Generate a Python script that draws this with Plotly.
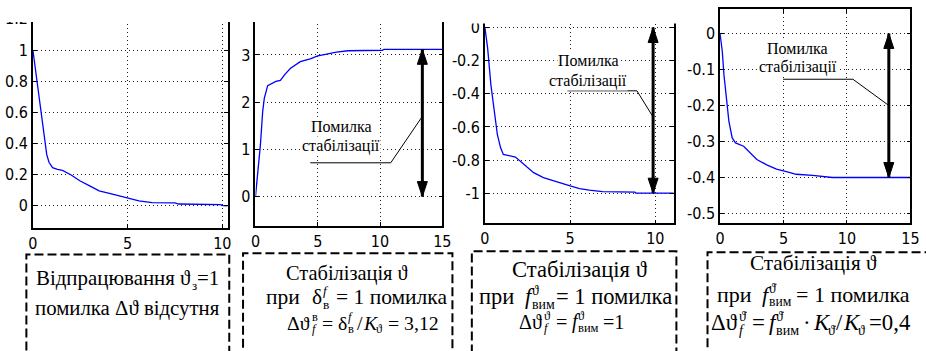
import plotly.graph_objects as go

FIG_W, FIG_H = 926, 351

# ---- time responses (time in s) ----
t_track = [0, 0.26, 0.43, 0.61, 0.73, 0.85, 1.04, 1.3, 1.56, 2.0, 2.5, 3.0, 3.5, 4.2,
           5.0, 5.6, 6.3, 7.5, 7.7, 9.9, 10.05, 10.28]
y_track = [1.0, 0.755, 0.606, 0.457, 0.33, 0.28, 0.245, 0.235, 0.228, 0.2, 0.16, 0.128,
           0.096, 0.075, 0.049, 0.032, 0.021, 0.019, 0.012, 0.008, 0.002, 0.0]

t_elev = [0, 0.19, 0.4, 0.58, 0.71, 0.98, 1.3, 1.64, 2.0, 2.4, 2.82, 3.6, 4.4, 5.0,
          5.72, 6.5, 7.43, 10.2, 10.3, 15]
y_elev = [0, 0.47, 1.1, 1.8, 2.08, 2.35, 2.4, 2.44, 2.46, 2.6, 2.72, 2.86, 2.92, 2.98,
          3.02, 3.06, 3.09, 3.1, 3.12, 3.12]

t_dist = [0, 0.16, 0.35, 0.54, 0.73, 0.92, 1.08, 1.79, 2.28, 2.86, 3.43, 4.2, 5.0,
          5.55, 6.13, 6.9, 8.8, 8.85, 11.08]
y_dist = [0, -0.126, -0.346, -0.506, -0.646, -0.726, -0.766, -0.782, -0.826, -0.876,
          -0.906, -0.932, -0.956, -0.972, -0.982, -0.99, -0.993, -1.0, -1.0]

t_rate = [0, 0.18, 0.31, 0.52, 0.7, 0.96, 1.22, 1.86, 2.38, 2.9, 3.68, 4.45, 5.23,
          6.0, 7.3, 8.85, 15]
y_rate = [0, -0.05, -0.115, -0.189, -0.244, -0.29, -0.304, -0.313, -0.331, -0.35,
          -0.365, -0.377, -0.384, -0.391, -0.394, -0.4, -0.4]

# steady-state stabilisation errors
err_elev = 3.12
err_dist = -1.0
err_rate = -0.4

# tick values / labels
xt_10 = [0, 5, 10]
xt_15 = [0, 5, 10, 15]
yt_track = [0, 0.2, 0.4, 0.6, 0.8, 1.0, 1.2]
yl_track = ["0", "0.2", "0.4", "0.6", "0.8", "1", "1.2"]
yt_elev = [0, 1, 2, 3]
yl_elev = ["0", "1", "2", "3"]
yt_dist = [0, -0.2, -0.4, -0.6, -0.8, -1.0]
yl_dist = ["0", "-0.2", "-0.4", "-0.6", "-0.8", "-1"]
yt_rate = [0, -0.1, -0.2, -0.3, -0.4, -0.5]
yl_rate = ["0", "-0.1", "-0.2", "-0.3", "-0.4", "-0.5"]

NARROW = '"DejaVu Sans Condensed", "DejaVu Sans", sans-serif'
SERIF = '"Liberation Serif", "Times New Roman", serif'


def fx(px):
    return px / FIG_W


def fy(py):
    return 1 - py / FIG_H


panels = [
    dict(t=t_track, y=y_track, dx=(28.3, 226), dy=(10, 227), xr=(0, 10.28),
         yr=(-0.140, 1.2444), xt=xt_10, yt=yt_track, yl=yl_track),
    dict(t=t_elev, y=y_elev, dx=(254.3, 444), dy=(10, 225), xr=(0, 15),
         yr=(-0.617, 3.912), xt=xt_15, yt=yt_elev, yl=yl_elev),
    dict(t=t_dist, y=y_dist, dx=(487.3, 679), dy=(10, 222.7), xr=(0, 11.08),
         yr=(-1.1825, 0.0942), xt=xt_10, yt=yt_dist, yl=yl_dist),
    dict(t=t_rate, y=y_rate, dx=(726, 919.3), dy=(7.3, 222.7), xr=(0, 15),
         yr=(-0.5276, 0.0674), xt=xt_15, yt=yt_rate, yl=yl_rate),
]

fig = go.Figure()
layout = dict(width=FIG_W, height=FIG_H, margin=dict(l=0, r=0, t=0, b=0),
              paper_bgcolor="white", plot_bgcolor="white", showlegend=False)

axis_common = dict(showgrid=True, gridcolor="#222", griddash="1px,3px", gridwidth=1,
                   zeroline=False, showline=True, linecolor="black", linewidth=1.5,
                   mirror="ticks", ticks="inside", ticklen=4, tickcolor="black",
                   tickfont=dict(family=NARROW, size=16, color="black"))

for i, p in enumerate(panels, start=1):
    sx = "" if i == 1 else str(i)
    fig.add_trace(go.Scatter(x=p["t"], y=p["y"], mode="lines",
                             line=dict(color="#0000ff", width=1.3),
                             xaxis="x" + sx, yaxis="y" + sx, hoverinfo="skip"))
    layout["xaxis" + sx] = dict(axis_common, domain=[fx(p["dx"][0]), fx(p["dx"][1])],
                                range=list(p["xr"]), tickvals=p["xt"],
                                ticktext=[str(v) for v in p["xt"]], anchor="y" + sx)
    layout["yaxis" + sx] = dict(axis_common, domain=[fy(p["dy"][1]), fy(p["dy"][0])],
                                range=list(p["yr"]), tickvals=p["yt"], ticktext=p["yl"],
                                anchor="x" + sx)

shapes = []
annotations = []

# white strips trimming the top of the first three frames
for x0, x1, y1 in [(0, 238, 20), (238, 470, 20), (470, 700, 21.7)]:
    shapes.append(dict(type="rect", xref="paper", yref="paper", x0=fx(x0), x1=fx(x1),
                       y0=fy(y1), y1=1.01, fillcolor="white", line=dict(width=0),
                       layer="above"))


# double-headed error arrows and leader lines
def error_arrow(sx, xpos, err):
    xr, yr = "x" + sx, "y" + sx
    shapes.append(dict(type="line", xref=xr, yref=yr, x0=xpos, x1=xpos, y0=0, y1=err,
                       line=dict(color="black", width=3), layer="above"))
    s = 1 if err > 0 else -1
    for yv, d in [(err, s), (0, -s)]:
        shapes.append(dict(type="path", xref=xr, yref=yr, xsizemode="pixel",
                           ysizemode="pixel", xanchor=xpos, yanchor=yv,
                           path=f"M0,0 L-5,{-15 * d} L5,{-15 * d} Z",
                           fillcolor="black", line=dict(color="black", width=1),
                           layer="above"))


def leader(sx, pts):
    path = "M" + " L".join(f"{a},{b}" for a, b in pts)
    shapes.append(dict(type="path", xref="x" + sx, yref="y" + sx, path=path,
                       line=dict(color="black", width=1), layer="above"))


def callout(sx, xc, y1, y2):
    for yv, txt in [(y1, "Помилка"), (y2, "стабілізації")]:
        annotations.append(dict(xref="x" + sx, yref="y" + sx, x=xc, y=yv, text=txt,
                                showarrow=False, bgcolor="white", borderpad=0,
                                font=dict(family=SERIF, size=16, color="black")))


error_arrow("2", 13.4, err_elev)
leader("2", [(4.4, 0.716), (10.86, 0.716), (13.4, 1.7)])
callout("2", 6.9, 1.49, 1.07)

error_arrow("3", 9.87, err_dist)
leader("3", [(4.84, -0.382), (8.92, -0.382), (9.87, -0.54)])
callout("3", 6.07, -0.2017, -0.32)

error_arrow("4", 13.3, err_rate)
leader("4", [(4.97, -0.127), (10.47, -0.127), (13.3, -0.2)])
callout("4", 6.14, -0.041, -0.092)

# dashed caption frames (open at the bottom)
for x0, x1, top in [(21.7, 227.7, 254), (241.7, 454.3, 252.7), (474, 681.7, 250.7),
                    (713.3, 945, 251.7)]:
    shapes.append(dict(type="rect", xref="paper", yref="paper", x0=fx(x0), x1=fx(x1),
                       y0=-0.1, y1=fy(top), line=dict(color="black", width=2,
                                                      dash="9px,4px"),
                       fillcolor="rgba(0,0,0,0)", layer="above"))

# caption typesetting with stacked indices
ADV = {" ": 0.25, "=": 0.564, "1": 0.5, "0": 0.5, "2": 0.5, "3": 0.5, "4": 0.5,
       ",": 0.25, ".": 0.25, "/": 0.278, "·": 0.25, "f": 0.278, "K": 0.667,
       "Δ": 0.612, "δ": 0.5, "ϑ": 0.63, "\u0307": 0.0,
       "В": 0.667, "С": 0.667,
       "а": 0.444, "б": 0.509, "в": 0.472, "д": 0.509, "з": 0.395, "и": 0.535,
       "к": 0.486, "л": 0.499, "м": 0.633, "н": 0.535, "о": 0.5, "п": 0.535,
       "р": 0.5, "с": 0.444, "т": 0.437, "у": 0.5, "ц": 0.535, "ю": 0.747,
       "я": 0.482, "і": 0.278, "ї": 0.278}
MID = 0.3375  # baseline offset below the text box middle, in em
SCRIPT = 0.62  # index size relative to the main text


def adv(s):
    return sum(ADV.get(c, 0.5) for c in s)


def word(x, base, txt, size, italic=False):
    return dict(xref="paper", yref="paper", x=fx(x), y=fy(base - MID * size),
                xanchor="left", yanchor="middle", showarrow=False,
                text=f"<i>{txt}</i>" if italic else txt, borderpad=0, borderwidth=0,
                font=dict(family=SERIF, size=size, color="black"))


def em_width(parts):
    total = 0.0
    for p in parts:
        if p[0] == "sp":
            total += p[1]
        elif p[0] in ("t", "i"):
            total += adv(p[1])
        else:
            total += max(adv(p[1]), adv(p[2])) * SCRIPT
    return total


def line(x0, x1, base, parts):
    # font size chosen so that the run spans x0..x1
    size = round(min(23.0, max(18.0, (x1 - x0) / em_width(parts))), 1)
    small = round(size * SCRIPT, 1)
    cx = x0
    for p in parts:
        kind = p[0]
        if kind == "sp":
            cx += p[1] * size
        elif kind in ("t", "i"):
            annotations.append(word(cx, base, p[1], size, kind == "i"))
            cx += adv(p[1]) * size
        else:  # stacked superscript / subscript
            sup, sub = p[1], p[2]
            sup_i = len(p) > 3 and p[3]
            sub_i = len(p) > 4 and p[4]
            if sup:
                annotations.append(word(cx + 0.5, base - 0.42 * size, sup, small, sup_i))
            if sub:
                annotations.append(word(cx + 0.5, base + 0.2 * size, sub, small, sub_i))
            cx += max(adv(sup), adv(sub)) * small


line(31.7, 216.7, 285, [("t", "Відпрацювання ϑ"), ("ss", "", "з"), ("t", "=1")])
line(30, 218, 315, [("t", "помилка Δϑ відсутня")])

line(285, 410, 280, [("t", "Стабілізація ϑ")])
line(265, 447.7, 304, [("t", "при"), ("sp", 0.6), ("t", "δ"),
                       ("ss", "f", "в", True, False), ("sp", 0.35), ("t", "= 1 помилка")])
line(286.7, 440, 329.3, [("t", "Δϑ"), ("ss", "в", "f", False, True), ("sp", 0.25),
                         ("t", "= δ"), ("ss", "f", "в", True, False), ("sp", 0.2),
                         ("t", "/"), ("i", "K"), ("ss", "", "ϑ"), ("sp", 0.25),
                         ("t", "= 3,12")])

line(515, 653.3, 276.7, [("t", "Стабілізація ϑ")])
line(481.7, 676.7, 304, [("t", "при"), ("sp", 0.5), ("i", "f"), ("ss", "ϑ", "вим"),
                         ("sp", 0.1), ("t", "= 1 помилка")])
line(521.7, 628.3, 328.3, [("t", "Δϑ"), ("ss", "ϑ", "f", False, True), ("sp", 0.25),
                           ("t", "="), ("sp", 0.25), ("i", "f"), ("ss", "ϑ", "вим"),
                           ("sp", 0.25), ("t", "=1")])

line(756.7, 886.7, 269.3, [("t", "Стабілізація ϑ")])
line(723.3, 916.7, 301.7, [("t", "при"), ("sp", 0.5), ("i", "f"),
                           ("ss", "ϑ\u0307", "вим"), ("sp", 0.25), ("t", "= 1 помилка")])
line(716.7, 918.3, 330, [("t", "Δϑ"), ("ss", "ϑ\u0307", "f", False, True), ("sp", 0.2),
                         ("t", "="), ("sp", 0.2), ("i", "f"), ("ss", "ϑ\u0307", "вим"),
                         ("sp", 0.2), ("t", "·"), ("sp", 0.2), ("i", "K"),
                         ("ss", "", "ϑ\u0307"), ("t", "/"), ("i", "K"), ("ss", "", "ϑ"),
                         ("sp", 0.1), ("t", "=0,4")])

layout["shapes"] = shapes
layout["annotations"] = annotations
fig.update_layout(**layout)
fig.write_html("out.html")
